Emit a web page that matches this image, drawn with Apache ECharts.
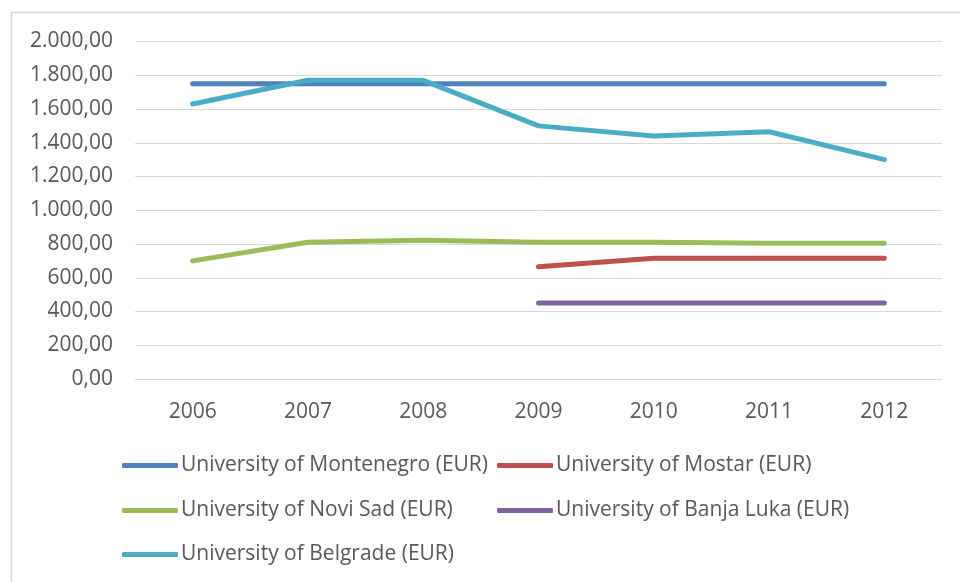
<!DOCTYPE html>
<html>
<head>
<meta charset="utf-8">
<script src="https://cdn.jsdelivr.net/npm/echarts@6/dist/echarts.min.js"></script>
<style>html,body{margin:0;padding:0;background:#fff}#c{width:960px;height:582px}</style>
</head>
<body>
<div id="c"></div>
<script>
const years = ['2006','2007','2008','2009','2010','2011','2012'];
const montenegro = [1750,1750,1750,1750,1750,1750,1750];
const mostar = [null,null,null,665,715,715,715];
const noviSad = [700,810,822,810,810,805,805];
const banjaLuka = [null,null,null,450,450,450,450];
const belgrade = [1630,1770,1770,1500,1440,1465,1300];
const names = ['University of Montenegro (EUR)','University of Mostar (EUR)','University of Novi Sad (EUR)','University of Banja Luka (EUR)','University of Belgrade (EUR)'];
const colors = ['#4f81bd','#c0504d','#9bbb59','#8064a2','#4bacc6'];
const seriesData = [montenegro, mostar, noviSad, banjaLuka, belgrade];

function fmt(v){
  const s = Math.round(v).toString().replace(/\B(?=(\d{3})+(?!\d))/g,'.');
  return s + ',00';
}
const font = 'Open Sans';
const legendPos = [[122,455],[497,455],[122,500],[497,500],[122,544]];
const chart = echarts.init(document.getElementById('c'));
chart.setOption({
  animation:false,
  graphic:[{type:'rect',shape:{x:11.5,y:12.5,width:1000,height:650},style:{fill:'none',stroke:'#d9d9d9',lineWidth:1.5},silent:true}],
  grid:{left:135,right:18,top:41.5,bottom:203},
  legend: names.map((n,i)=>({
    data:[n], left:legendPos[i][0], top:legendPos[i][1], icon:'roundRect',
    itemWidth:56, itemHeight:5, padding:0,
    textStyle:{fontFamily:font,fontSize:21,color:'#595959',padding:[0,0,0,-2]}
  })),
  xAxis:{type:'category',data:years,boundaryGap:true,
    axisLine:{show:true,lineStyle:{color:'#d9d9d9',width:1}},axisTick:{show:false},
    axisLabel:{fontFamily:font,fontSize:21,color:'#595959',margin:23}},
  yAxis:{type:'value',min:0,max:2000,interval:200,
    axisLine:{show:false},axisTick:{show:false},
    splitLine:{lineStyle:{color:'#d9d9d9',width:1}},
    axisLabel:{fontFamily:font,fontSize:21,color:'#595959',margin:22,formatter:fmt}},
  series: seriesData.map((d,i)=>({
    name:names[i], type:'line', data:d, symbol:'none', connectNulls:false,
    itemStyle:{color:colors[i]},
    lineStyle:{color:colors[i],width:5,cap:'round',join:'round'}
  }))
});
</script>
</body>
</html>
